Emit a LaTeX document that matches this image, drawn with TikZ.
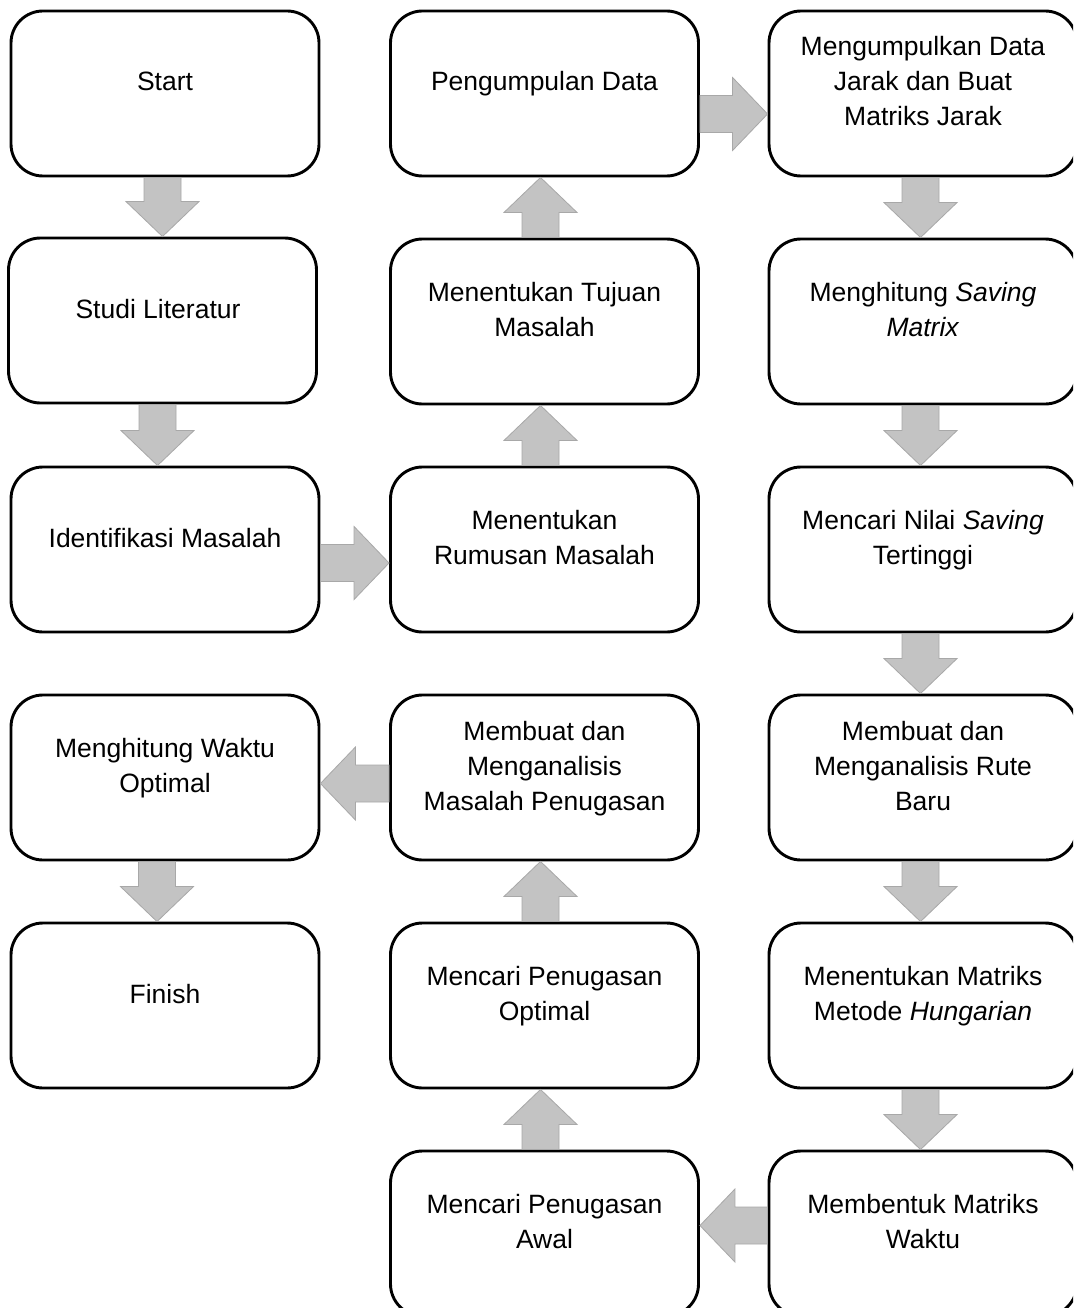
\documentclass[tikz,border=0pt]{standalone}
\usepackage{fontspec}
\setmainfont{Liberation Sans}
\usetikzlibrary{calc}
\definecolor{arrowgray}{HTML}{C3C3C3}
\definecolor{arrowedge}{HTML}{A8A8A8}
\tikzset{
  box/.style={draw=black, line width=2.9pt, rounded corners=32pt, minimum width=308pt, minimum height=165pt, inner sep=0pt, fill=white},
  lbl/.style={align=center, font=\fontsize{26.5}{35}\selectfont, text height=19pt, text depth=0pt, inner sep=0pt},
  blk/.style={fill=arrowgray, draw=arrowedge, line width=0.8pt, line join=miter}
}
% block arrows: #1 from node, #2 to node, #3 position across the arrow
\newcommand\blkdown[3]{\draw[blk] let \p1=(#1.south), \p2=(#2.north) in
  (#3-18.5,\y1) -- (#3+18.5,\y1) -- (#3+18.5,\y2+35) -- (#3+36.5,\y2+35) -- (#3,\y2) -- (#3-36.5,\y2+35) -- (#3-18.5,\y2+35) -- cycle;}
\newcommand\blkup[3]{\draw[blk] let \p1=(#1.north), \p2=(#2.south) in
  (#3-18.5,\y1) -- (#3+18.5,\y1) -- (#3+18.5,\y2-35) -- (#3+36.5,\y2-35) -- (#3,\y2) -- (#3-36.5,\y2-35) -- (#3-18.5,\y2-35) -- cycle;}
\newcommand\blkright[3]{\draw[blk] let \p1=(#1.east), \p2=(#2.west) in
  (\x1,-#3+18.5) -- (\x2-35,-#3+18.5) -- (\x2-35,-#3+36.5) -- (\x2,-#3) -- (\x2-35,-#3-36.5) -- (\x2-35,-#3-18.5) -- (\x1,-#3-18.5) -- cycle;}
\newcommand\blkleft[3]{\draw[blk] let \p1=(#1.west), \p2=(#2.east) in
  (\x1,-#3+18.5) -- (\x2+35,-#3+18.5) -- (\x2+35,-#3+36.5) -- (\x2,-#3) -- (\x2+35,-#3-36.5) -- (\x2+35,-#3-18.5) -- (\x1,-#3-18.5) -- cycle;}
\begin{document}
\begin{tikzpicture}[x=1pt,y=1pt]
\useasboundingbox (0,0) rectangle (1073,-1308);
\fill[white] (0,0) rectangle (1073,-1308);
\clip (0,0) rectangle (1073,-1308);
% column 1
\node[box] (a1) at (165,-93.5) {};
\node[box] (a2) at (162.5,-320.5) {};
\node[box] (a3) at (165,-549.5) {};
\node[box] (a4) at (165,-777.5) {};
\node[box] (a5) at (165,-1005.5) {};
% column 2
\node[box] (b1) at (544.5,-93.5) {};
\node[box] (b2) at (544.5,-321.5) {};
\node[box] (b3) at (544.5,-549.5) {};
\node[box] (b4) at (544.5,-777.5) {};
\node[box] (b5) at (544.5,-1005.5) {};
\node[box] (b6) at (544.5,-1233.5) {};
% column 3
\node[box] (c1) at (923,-93.5) {};
\node[box] (c2) at (923,-321.5) {};
\node[box] (c3) at (923,-549.5) {};
\node[box] (c4) at (923,-777.5) {};
\node[box] (c5) at (923,-1005.5) {};
\node[box] (c6) at (923,-1233.5) {};
% labels
\node[lbl] (ta1) at ($(a1.center)+(0,12)$) {Start};
\node[lbl] (ta2) at ($(a2.center)+(-4.5,12)$) {Studi Literatur};
\node[lbl] (ta3) at ($(a3.center)+(0,12)$) {Identifikasi Masalah};
\node[lbl] (ta4) at ($(a4.center)+(0,-5)$) {Menghitung Waktu\\Optimal};
\node[lbl] (ta5) at ($(a5.center)+(0,12)$) {Finish};
\node[lbl] (tb1) at ($(b1.center)+(0,12)$) {Pengumpulan Data};
\node[lbl] (tb2) at ($(b2.center)+(0,-5)$) {Menentukan Tujuan\\Masalah};
\node[lbl] (tb3) at ($(b3.center)+(0,-5)$) {Menentukan\\Rumusan Masalah};
\node[lbl] (tb4) at ($(b4.center)+(0,-23)$) {Membuat dan\\Menganalisis\\Masalah Penugasan};
\node[lbl] (tb5) at ($(b5.center)+(0,-5)$) {Mencari Penugasan\\Optimal};
\node[lbl] (tb6) at ($(b6.center)+(0,-5)$) {Mencari Penugasan\\Awal};
\node[lbl] (tc1) at ($(c1.center)+(0,-23)$) {Mengumpulkan Data\\Jarak dan Buat\\Matriks Jarak};
\node[lbl] (tc2) at ($(c2.center)+(0,-5)$) {Menghitung \textit{Saving}\\\textit{Matrix}};
\node[lbl] (tc3) at ($(c3.center)+(0,-5)$) {Mencari Nilai \textit{Saving}\\Tertinggi};
\node[lbl] (tc4) at ($(c4.center)+(0,-23)$) {Membuat dan\\Menganalisis Rute\\Baru};
\node[lbl] (tc5) at ($(c5.center)+(0,-5)$) {Menentukan Matriks\\Metode \textit{Hungarian}};
\node[lbl] (tc6) at ($(c6.center)+(0,-5)$) {Membentuk Matriks\\Waktu};
% arrows
\blkdown{a1}{a2}{162.5}
\blkdown{a2}{a3}{157.5}
\blkright{a3}{b3}{563}
\blkup{b3}{b2}{540.5}
\blkup{b2}{b1}{540.5}
\blkright{b1}{c1}{114}
\blkdown{c1}{c2}{920.5}
\blkdown{c2}{c3}{920.5}
\blkdown{c3}{c4}{920.5}
\blkdown{c4}{c5}{920.5}
\blkdown{c5}{c6}{920.5}
\blkleft{c6}{b6}{1225.5}
\blkup{b6}{b5}{540.5}
\blkup{b5}{b4}{540.5}
\blkleft{b4}{a4}{783.5}
\blkdown{a4}{a5}{157}
\end{tikzpicture}
\end{document}
